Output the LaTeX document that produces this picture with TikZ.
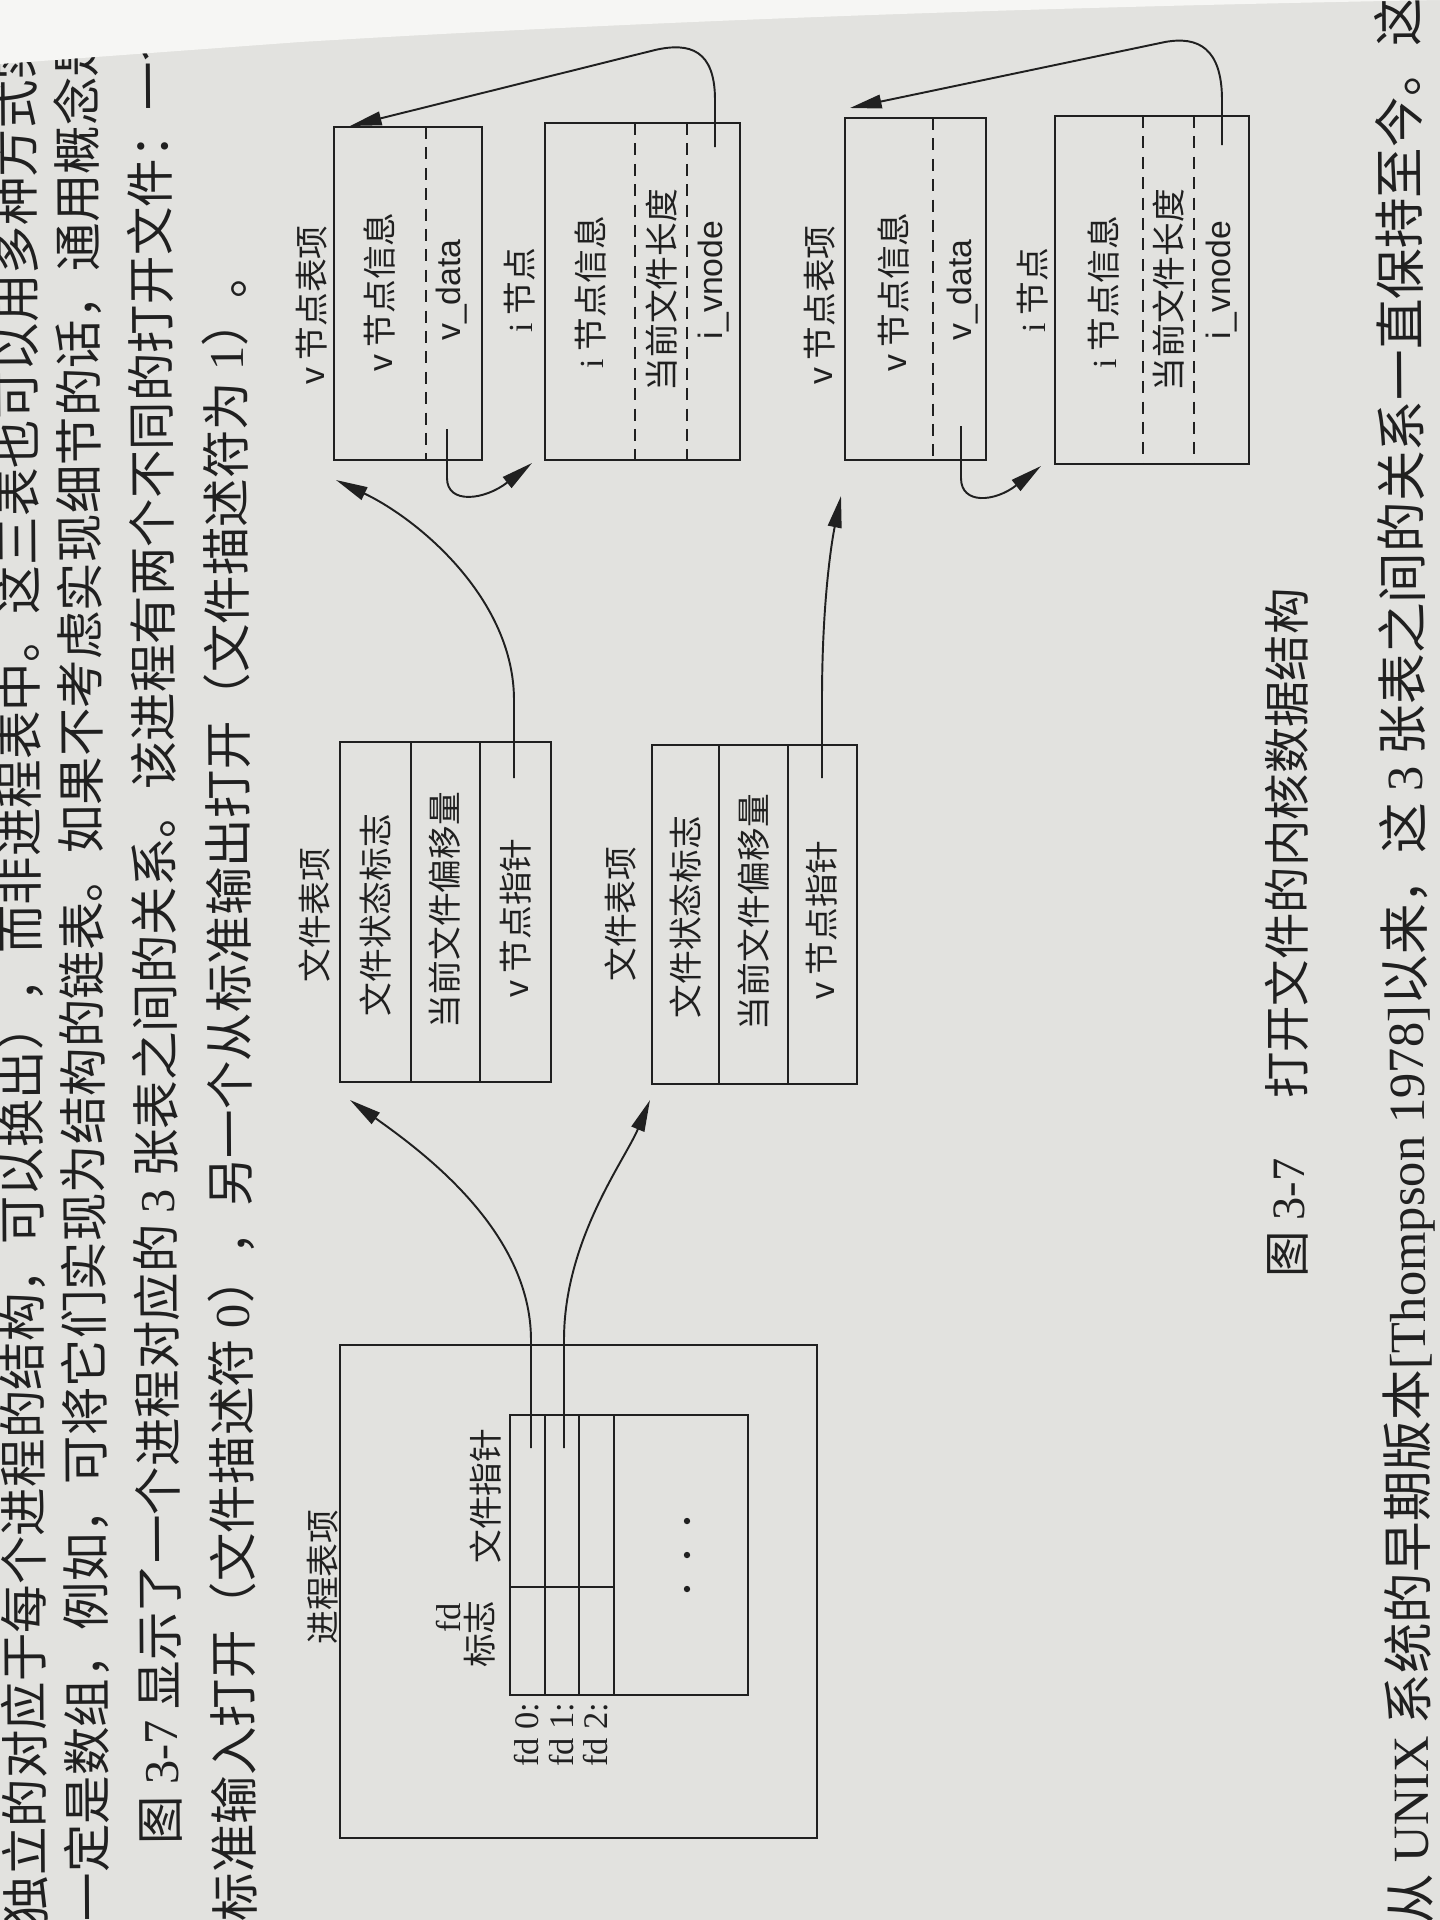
\documentclass[tikz,border=0pt]{standalone}
\usepackage{fontspec}
\setmainfont{Liberation Serif}
\newfontfamily\cjk{Noto Sans CJK SC}
\newfontfamily\lat{Liberation Serif}
\newfontfamily\las{Liberation Sans}
\usetikzlibrary{arrows.meta}
\definecolor{paper}{RGB}{226,226,223}
\definecolor{bright}{RGB}{246,246,244}
\definecolor{ink}{RGB}{32,32,32}

\begin{document}
\begin{tikzpicture}[x=0.01cm,y=-0.01cm,
  body/.style={rotate=90.35,anchor=west,inner sep=0pt,text=ink,font=\cjk\fontsize{13.8}{16}\selectfont},
  lbl/.style={rotate=90,inner sep=0pt,text=ink,font=\cjk\fontsize{9.6}{11}\selectfont},
  fdlbl/.style={rotate=90,anchor=east,inner sep=0pt,text=ink,font=\lat\fontsize{9.8}{11}\selectfont},
  box/.style={draw=ink,line width=0.6pt,inner sep=0pt,outer sep=0pt},
  sep/.style={draw=ink,line width=0.6pt},
  dsep/.style={draw=ink,line width=0.6pt,dash pattern=on 3.4pt off 2.4pt},
  conn/.style={draw=ink,line width=0.55pt},
  arr/.style={conn,-{Triangle[length=9pt,width=3.9pt]}}]

% page
\fill[paper] (0,0) rectangle (1440,1920);
\useasboundingbox (0,0) rectangle (1440,1920);

% running text of the page
\node[body] (p1) at (26,1925) {独立的对应于每个进程的结构，可以换出），而非进程表中。这三表也可以用多种方式实现};
\node[body] (p2) at (88,1922) {一定是数组，例如，可将它们实现为结构的链表。如果不考虑实现细节的话，通用概念是相同的};
\node[body] (p3) at (160,1845) {图 {\lat 3-7} 显示了一个进程对应的 {\lat 3} 张表之间的关系。该进程有两个不同的打开文件：一个};
\node[body] (p4) at (235,1922) {标准输入打开（文件描述符 {\lat 0}），另一个从标准输出打开（文件描述符为 {\lat 1}）。};
\node[body,font=\cjk\fontsize{14.4}{16}\selectfont] (p5) at (1413,1925) {从 {\lat UNIX} 系统的早期版本{\lat [Thompson 1978]}以来，这 {\lat 3} 张表之间的关系一直保持至今。这};

% caption
\node[body,rotate=-0.35,font=\cjk\fontsize{13.2}{16}\selectfont] (cap) at (1287,1278) {图 {\lat 3-7}\hspace{17pt}打开文件的内核数据结构};

% ---------- process table entry ----------
\node[box,minimum width=4.77cm,minimum height=4.93cm] (proc) at (578.5,1591.5) {};
\node[lbl] (procl) at (323,1577) {进程表项};
\node[box,minimum width=2.38cm,minimum height=2.80cm] (fdt) at (629,1555) {};
\draw[sep] (545,1415) -- (545,1695);
\draw[sep] (579,1415) -- (579,1695);
\draw[sep] (614,1415) -- (614,1695);
\draw[sep] (510,1587) -- (614,1587);
\node[lbl,font=\lat\fontsize{9.8}{11}\selectfont] (fdh) at (449,1618) {fd};
\node[lbl] (flagh) at (480,1634) {标志};
\node[lbl] (ptrh) at (486,1496) {文件指针};
\node[fdlbl] (fd0) at (527,1702) {fd 0:};
\node[fdlbl] (fd1) at (562,1702) {fd 1:};
\node[fdlbl] (fd2) at (596,1702) {fd 2:};
\foreach \yy in {1521,1555,1589} \fill[ink] (687,\yy) circle (3.2);

% ---------- file table entries ----------
\node[box,minimum width=2.11cm,minimum height=3.40cm] (ft1) at (445.5,912) {};
\draw[sep] (411,742) -- (411,1082);
\draw[sep] (480,742) -- (480,1082);
\node[lbl] (ft1l) at (315,915) {文件表项};
\node[lbl] (ft1a) at (376,915) {文件状态标志};
\node[lbl] (ft1b) at (445,910) {当前文件偏移量};
\node[lbl] (ft1c) at (516,918) {{\las v} 节点指针};

\node[box,minimum width=2.05cm,minimum height=3.39cm] (ft2) at (754.5,914.5) {};
\draw[sep] (719,745) -- (719,1084);
\draw[sep] (788,745) -- (788,1084);
\node[lbl] (ft2l) at (621,914) {文件表项};
\node[lbl] (ft2a) at (686,917) {文件状态标志};
\node[lbl] (ft2b) at (754,912) {当前文件偏移量};
\node[lbl] (ft2c) at (822,920) {{\las v} 节点指针};

% ---------- v-node and i-node entries ----------
\node[box,minimum width=1.48cm,minimum height=3.33cm] (vn1) at (408,293.5) {};
\draw[dsep] (426,127) -- (426,460);
\node[lbl] (vn1l) at (312,305) {{\las v} 节点表项};
\node[lbl] (vn1a) at (380,292) {{\las v} 节点信息};
\node[lbl,font=\las\fontsize{9.6}{11}\selectfont] (vn1b) at (452,290) {v\_data};

\node[box,minimum width=1.95cm,minimum height=3.37cm] (in1) at (642.5,291.5) {};
\draw[dsep] (635,123) -- (635,460);
\draw[dsep] (687,123) -- (687,460);
\node[lbl] (in1l) at (520,290) {{\lat i} 节点};
\node[lbl] (in1a) at (591,292) {{\lat i} 节点信息};
\node[lbl] (in1b) at (662,290) {当前文件长度};
\node[lbl,font=\las\fontsize{9.6}{11}\selectfont] (in1c) at (714,280) {i\_vnode};

\node[box,minimum width=1.41cm,minimum height=3.42cm] (vn2) at (915.5,289) {};
\draw[dsep] (933,118) -- (933,460);
\node[lbl] (vn2l) at (820,305) {{\las v} 节点表项};
\node[lbl] (vn2a) at (894,292) {{\las v} 节点信息};
\node[lbl,font=\las\fontsize{9.6}{11}\selectfont] (vn2b) at (963,290) {v\_data};

\node[box,minimum width=1.94cm,minimum height=3.48cm] (in2) at (1152,290) {};
\draw[dsep] (1143,116) -- (1143,464);
\draw[dsep] (1194,116) -- (1194,464);
\node[lbl] (in2l) at (1033,290) {{\lat i} 节点};
\node[lbl] (in2a) at (1104,292) {{\lat i} 节点信息};
\node[lbl] (in2b) at (1169,290) {当前文件长度};
\node[lbl,font=\las\fontsize{9.6}{11}\selectfont] (in2c) at (1222,280) {i\_vnode};

% ---------- pointer ends ----------
\coordinate (fd0src) at (531,1448);
\coordinate (fd1src) at (564,1448);
\coordinate (ft1in) at (350,1100);
\coordinate (ft2in) at (650,1100);
\coordinate (vp1src) at (514,778);
\coordinate (vp2src) at (822,778);
\coordinate (vn1in) at (336,480);
\coordinate (vn2in) at (841,496);
\coordinate (vd1src) at (447,429);
\coordinate (vd2src) at (961,426);
\coordinate (in1in) at (532,463);
\coordinate (in2in) at (1041,466);
\coordinate (iv1src) at (715,147);
\coordinate (iv2src) at (1222,145);
\coordinate (vn1top) at (350,126);
\coordinate (vn2top) at (850,108);

% ---------- pointers ----------
\draw[arr] (fd0src) -- (531,1340) .. controls (531,1230) and (420,1150) .. (ft1in);
\draw[arr] (fd1src) -- (564,1340) .. controls (564,1240) and (625,1160) .. (ft2in);
\draw[arr] (vp1src) -- (514,700) .. controls (514,600) and (420,520) .. (vn1in);
\draw[arr] (vp2src) -- (822,700) .. controls (822,600) and (832,540) .. (vn2in);
\draw[arr] (vd1src) -- (447,478) .. controls (447,505) and (485,500) .. (in1in);
\draw[arr] (vd2src) -- (961,478) .. controls (961,505) and (995,502) .. (in2in);
\draw[arr] (iv1src) -- (715,100) .. controls (715,50) and (690,42) .. (655,50) -- (vn1top);
\draw[arr] (iv2src) -- (1222,100) .. controls (1222,48) and (1198,36) .. (1165,42) -- (vn2top);

% beyond the top edge of the sheet
\fill[bright] (0,0) -- (1440,0) -- (1440,0) .. controls (1100,6) and (700,18) .. (300,42) -- (0,64) -- cycle;
\end{tikzpicture}
\end{document}
